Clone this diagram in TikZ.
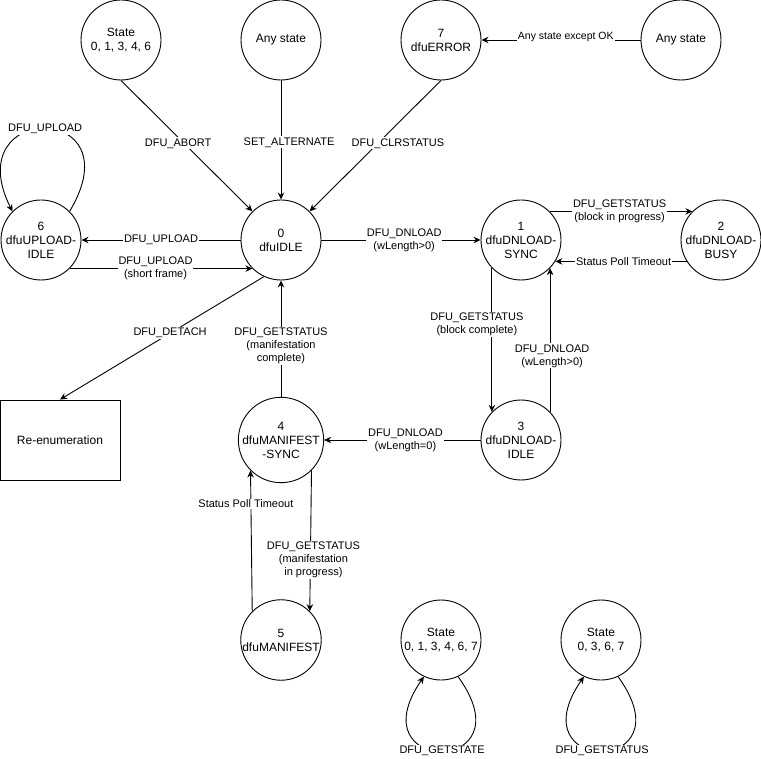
\documentclass[tikz,border=0pt]{standalone}
\usepackage{fontspec}
\setmainfont{Liberation Sans}
\usetikzlibrary{arrows.meta}

\tikzset{
state/.style={draw, circle, minimum size=80pt, inner sep=0pt, align=center,
  line width=0.9pt, font=\fontsize{12}{14}\selectfont},
lbl/.style={fill=white, inner sep=1pt, align=center,
  font=\fontsize{11}{13}\selectfont},
arr/.style={-{Stealth[length=7pt,width=6.5pt]}, line width=0.9pt},
}

\begin{document}
\begin{tikzpicture}[x=1pt, y=-1pt]
\useasboundingbox (0,0) rectangle (761,759);
%верхний ряд
\node[state] (s01346) at (121,40) {State\\0, 1, 3, 4, 6};
\node[state] (anyalt) at (281,40) {Any state};
\node[state] (error) at (441,40) {7\\dfuERROR};
\node[state] (anyerr) at (681,40) {Any state};
%основные состояния
\node[state] (upidle) at (41,240) {6\\dfuUPLOAD-\\IDLE};
\node[state] (idle) at (281,240) {0\\dfuIDLE};
\node[state] (dnsync) at (521,240) {1\\dfuDNLOAD-\\SYNC};
\node[state] (dnbusy) at (721,240) {2\\dfuDNLOAD-\\BUSY};
\node[state] (dnidle) at (521,440) {3\\dfuDNLOAD-\\IDLE};
\node[state] (mansync) at (281,440) {4\\dfuMANIFEST\\-SYNC};
\node[state] (manifest) at (281,640) {5\\dfuMANIFEST};
\node[state] (getstate) at (441,640) {State\\0, 1, 3, 4, 6, 7};
\node[state] (getstatus) at (601,640) {State\\0, 3, 6, 7};
\node[draw, line width=0.9pt, minimum width=120pt, minimum height=80pt,
  font=\fontsize{12}{14}\selectfont] (reenum) at (60,440) {Re-enumeration};

\draw[arr] (s01346.south) -- node[lbl, pos=.48, xshift=-6pt] {DFU\_ABORT} (idle.135);
\draw[arr] (anyalt.south) -- node[lbl, pos=.52, xshift=8pt] {SET\_ALTERNATE} (idle.north);
\draw[arr] (error.south) -- node[lbl, pos=.48, xshift=20pt] {DFU\_CLRSTATUS} (idle.45);
\draw[arr] (anyerr.west) -- node[lbl, pos=.47, yshift=3pt,
  font=\fontsize{10.5}{12}\selectfont] {Any state except OK} (error.east);

\draw[arr] (idle.west) -- node[lbl] {DFU\_UPLOAD} (upidle.east);
\draw[arr] (upidle.-45) -- node[lbl, pos=.47] {DFU\_UPLOAD\\(short frame)} (idle.-135);
\draw[arr] (upidle.45) .. controls (136,101) and (-43,101) .. (upidle.135)
  node[lbl, pos=.5] {DFU\_UPLOAD};
\draw[arr] (idle.-115) -- node[lbl, pos=.46] {DFU\_DETACH} (reenum.north);

\draw[arr] (idle.east) -- node[lbl, pos=.52] {DFU\_DNLOAD\\(wLength>0)} (dnsync.west);
\draw[arr] (dnsync.45) -- node[lbl, pos=.49] {DFU\_GETSTATUS\\(block in progress)} (dnbusy.135);
\draw[arr] (dnbusy.-148) -- node[lbl, pos=.48] {Status Poll Timeout} (dnsync.-32);
\draw[arr] (dnsync.-136) -- node[lbl, pos=.39, xshift=-15pt] {DFU\_GETSTATUS\\(block complete)} (dnidle.136);
\draw[arr] (dnidle.44) -- node[lbl, pos=.39, xshift=2pt] {DFU\_DNLOAD\\(wLength>0)} (dnsync.-44);
\draw[arr] (dnidle.west) -- node[lbl, pos=.48] {DFU\_DNLOAD\\(wLength=0)} (mansync.east);

\draw[arr] (mansync.north) -- node[lbl, pos=.44] {DFU\_GETSTATUS\\(manifestation\\complete)} (idle.south);
\draw[arr] (mansync.-45) -- node[lbl, pos=.635, xshift=3pt] {DFU\_GETSTATUS\\(manifestation\\in progress)} (manifest.45);
\draw[arr] (manifest.135) -- node[lbl, pos=.765, xshift=-5pt] {Status Poll Timeout} (mansync.-135);

%петли внизу
\draw[arr] (getstate.-65) .. controls (530,776) and (355,776) .. (getstate.-115)
  node[lbl, pos=.5] {DFU\_GETSTATE};
\draw[arr] (getstatus.-65) .. controls (690,776) and (515,776) .. (getstatus.-115)
  node[lbl, pos=.5] {DFU\_GETSTATUS};
\end{tikzpicture}
\end{document}
